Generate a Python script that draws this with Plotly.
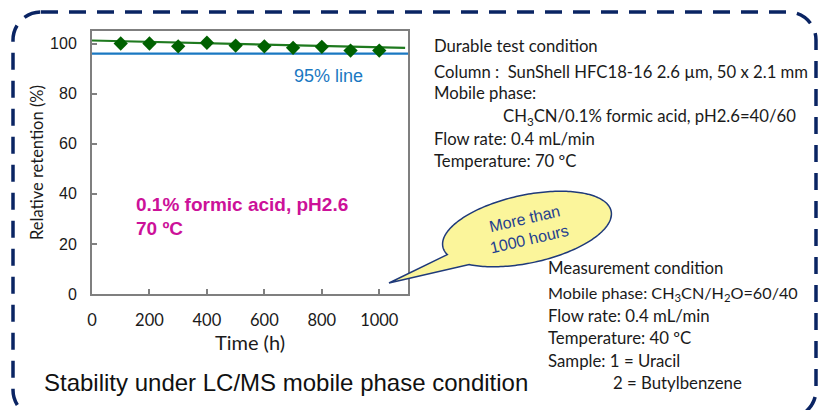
import numpy as np
import plotly.graph_objects as go

# ---------------- data ----------------
time_h = [100, 200, 300, 400, 500, 600, 700, 800, 900, 1000]
retention = [100.0, 100.0, 98.9, 100.3, 99.2, 98.9, 98.3, 98.7, 97.2, 97.2]
trend_time = [0, 1090]
trend_retention = [101.2, 98.3]
line95_time = [0, 1100]
line95_value = [96.0, 96.0]
x_ticks = [0, 200, 400, 600, 800, 1000]
y_ticks = [0, 20, 40, 60, 80, 100]

# ---------------- geometry helpers ----------------
W, H = 818, 410
L, R, T, B = 92, 410, 31, 116
PW, PH = W - L - R, H - T - B


def px(x):
    return (x - L) / PW


def py(y):
    return (H - B - y) / PH


fig = go.Figure()

fig.add_trace(go.Scatter(x=line95_time, y=line95_value, mode="lines",
                         line=dict(color="#1a78c2", width=2.2), hoverinfo="skip"))
fig.add_trace(go.Scatter(x=trend_time, y=trend_retention, mode="lines",
                         line=dict(color="#1f7a1f", width=2.2), hoverinfo="skip"))
fig.add_trace(go.Scatter(x=time_h, y=retention, mode="markers",
                         marker=dict(symbol="diamond", size=11, color="#006100",
                                     line=dict(width=0))))

# ---------------- dashed rounded border ----------------
x0, y0, x1, y1, r = 13, 12, 816, 418, 28
k = 0.5523 * r


def P(x, y):
    return f"{px(x):.5f},{py(y):.5f}"


border = (f"M {P(x0 + r, y0)} L {P(x1 - r, y0)} "
          f"C {P(x1 - r + k, y0)} {P(x1, y0 + r - k)} {P(x1, y0 + r)} "
          f"L {P(x1, y1 - r)} "
          f"C {P(x1, y1 - r + k)} {P(x1 - r + k, y1)} {P(x1 - r, y1)} "
          f"L {P(x0 + r, y1)} "
          f"C {P(x0 + r - k, y1)} {P(x0, y1 - r + k)} {P(x0, y1 - r)} "
          f"L {P(x0, y0 + r)} "
          f"C {P(x0, y0 + r - k)} {P(x0 + r - k, y0)} {P(x0 + r, y0)}")
fig.add_shape(type="path", path=border, xref="paper", yref="paper",
              line=dict(color="#0a2463", width=3.5, dash="17px,11px"), layer="above")

# ---------------- speech bubble ----------------
cx, cy, a, b = 527, 229, 86, 34
th = np.deg2rad(-12)


def ell(t):
    return (cx + a * np.cos(t) * np.cos(th) - b * np.sin(t) * np.sin(th),
            cy + a * np.cos(t) * np.sin(th) + b * np.sin(t) * np.cos(th))


ts = np.linspace(0, 2 * np.pi, 721)
pts = np.array([ell(t) for t in ts])


def nearest_t(x, y):
    d = (pts[:, 0] - x) ** 2 + (pts[:, 1] - y) ** 2
    return ts[int(np.argmin(d))]


t_up = nearest_t(450, 252)
t_lo = nearest_t(470, 261)
tip = (389, 283)
if t_up < t_lo:
    path_ts = np.linspace(t_lo, t_up + 2 * np.pi, 200)
else:
    path_ts = np.linspace(t_lo, t_up, 200) if (t_up - t_lo) > np.pi else np.linspace(t_lo, t_up - 2 * np.pi, 200)
seg = [ell(t) for t in path_ts]
bubble = "M " + P(*tip) + " L " + " L ".join(P(x, y) for x, y in seg) + " Z"
fig.add_shape(type="path", path=bubble, xref="paper", yref="paper",
              fillcolor="#fbf59b", line=dict(color="#1f3a7a", width=1.5), layer="above")

# ---------------- annotations ----------------
body = "Lato"
anns = []


def txt(x, y, s, size=16.7, color="#1a1a1a", family=body, xanchor="left", **kw):
    anns.append(dict(x=px(x), y=py(y), xref="paper", yref="paper", text=s,
                     showarrow=False, xanchor=xanchor, yanchor="middle",
                     font=dict(family=family, size=size, color=color), **kw))


txt(432, 46, "Durable test condition")
txt(432, 72, "Column :  SunShell HFC18-16 2.6 µm, 50 x 2.1 mm")
txt(432, 93, "Mobile phase:")
txt(501, 117, "CH<sub>3</sub>CN/0.1% formic acid, pH2.6=40/60")
txt(432, 139, "Flow rate: 0.4 mL/min")
txt(432, 161, "Temperature: 70 ºC")

txt(546, 267, "Measurement condition", size=16.8)
txt(546, 293, "Mobile phase: CH<sub>3</sub>CN/H<sub>2</sub>O=60/40", size=16.2)
txt(546, 315, "Flow rate: 0.4 mL/min", size=16.8)
txt(546, 337, "Temperature: 40 ºC", size=16.8)
txt(546, 360, "Sample: 1 = Uracil", size=16.8)
txt(611, 382, "2 = Butylbenzene", size=16.8)

txt(42, 382, "Stability under LC/MS mobile phase condition", size=24,
    family="Liberation Sans", color="#111111")
txt(134, 204, "<b>0.1% formic acid, pH2.6</b>", size=19, family="Liberation Sans",
    color="#cc1199")
txt(134, 228, "<b>70 ºC</b>", size=19, family="Liberation Sans", color="#cc1199")
txt(292, 76, "95% line", size=18, family="Liberation Sans", color="#1a78c2")
txt(527, 229, "More than<br>1000 hours", size=16, family="Liberation Sans",
    color="#1f3f8f", xanchor="center", textangle=-13)

fig.update_layout(
    width=W, height=H,
    margin=dict(l=L, r=R, t=T, b=B),
    paper_bgcolor="white", plot_bgcolor="white",
    showlegend=False,
    annotations=anns,
    xaxis=dict(range=[0, 1100], tickvals=x_ticks, ticks="inside", ticklen=5,
               tickcolor="#808080", tickwidth=1.5, showline=True, linecolor="#7f7f7f",
               linewidth=2, mirror=True, showgrid=False, zeroline=False,
               ticklabelstandoff=10,
               tickfont=dict(family=body, size=16.5, color="#1a1a1a"),
               title=dict(text="Time (h)", standoff=6,
                          font=dict(family=body, size=20, color="#1a1a1a"))),
    yaxis=dict(range=[0, 105], tickvals=y_ticks, ticks="inside", ticklen=5,
               tickcolor="#808080", tickwidth=1.5, showline=True, linecolor="#7f7f7f",
               linewidth=2, mirror=True, showgrid=False, zeroline=False,
               ticklabelstandoff=10,
               tickfont=dict(family="Liberation Sans", size=16, color="#1a1a1a"),
               title=dict(text="Relative retention (%)", standoff=2,
                          font=dict(family=body, size=16.5, color="#1a1a1a"))),
)

fig.write_html("out.html", post_script="document.body.style.margin='0px';",
               config={"displayModeBar": False})
